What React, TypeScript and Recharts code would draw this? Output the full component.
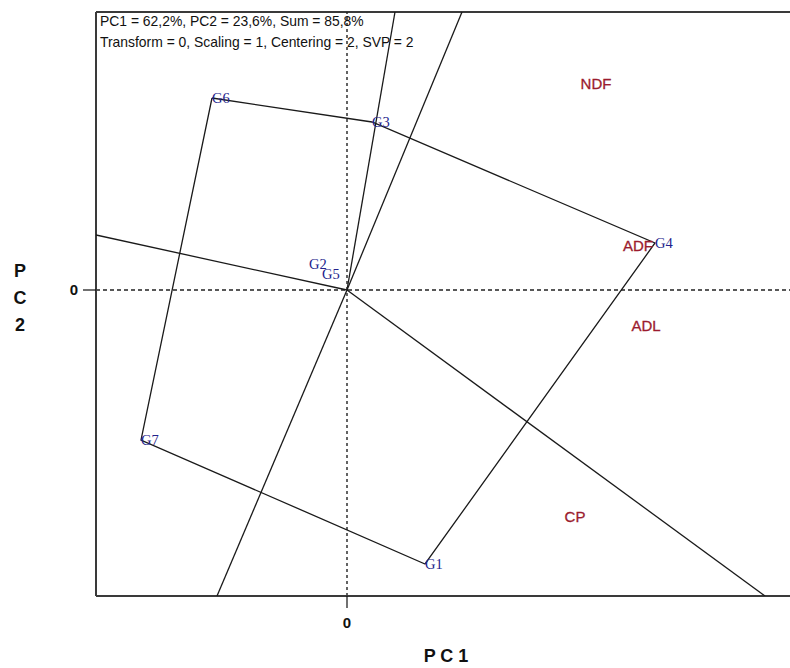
import * as React from "react";
import {
  ScatterChart,
  Scatter,
  XAxis,
  YAxis,
  ReferenceLine,
} from "recharts";

// biplot scores (PC1, PC2)
const genotypes = ["G1", "G2", "G3", "G4", "G5", "G6", "G7"];
const genoPC1 = [0.78, -0.38, 0.25, 3.08, -0.25, -1.35, -2.06];
const genoPC2 = [-2.74, 0.26, 1.68, 0.47, 0.16, 1.92, -1.5];

// which-won-where polygon, in drawing order
const hullOrder = ["G6", "G3", "G4", "G1", "G7", "G6"];

const traits = ["NDF", "ADF", "ADL", "CP"];
const traitPC1 = [2.49, 2.91, 2.99, 2.28];
const traitPC2 = [2.06, 0.44, -0.36, -2.27];

// rays from the origin, perpendicular to the polygon sides (end points at the frame)
const rayEndPC1 = [1.15, 0.48, -2.51, 4.18, -1.3];
const rayEndPC2 = [2.78, 2.78, 0.55, -3.06, -3.06];

const xDomain = [-2.51, 4.43];
const yDomain = [-3.06, 2.78];
const axisTicks = [0];

const headerLines = [
  "PC1 = 62,2%, PC2 = 23,6%, Sum = 85,8%",
  "Transform = 0, Scaling = 1, Centering = 2, SVP = 2",
];

const genoData = genotypes.map((g, i) => ({ name: g, x: genoPC1[i], y: genoPC2[i] }));
const hullData = hullOrder.map((g) => genoData.find((d) => d.name === g)!);
const traitData = traits.map((t, i) => ({ name: t, x: traitPC1[i], y: traitPC2[i] }));
const rays = rayEndPC1.map((x, i) => [
  { x: 0, y: 0 },
  { x, y: rayEndPC2[i] },
]);

const LINE = "#1a1a1a";
const FRAME = "#3a3a3a";
const SANS = "Arial, 'Liberation Sans', sans-serif";
const SERIF = "'Times New Roman', 'Liberation Serif', serif";

const noMark = () => <g />;

function GenoLabel(props: any) {
  const { cx, cy, payload } = props;
  return (
    <text
      x={cx}
      y={cy}
      dy={5}
      textAnchor="start"
      fontFamily={SERIF}
      fontSize={14.5}
      fill="#23238c"
    >
      {payload.name}
    </text>
  );
}

function TraitLabel(props: any) {
  const { cx, cy, payload } = props;
  return (
    <text
      x={cx}
      y={cy}
      dy={5}
      textAnchor="middle"
      fontFamily={SANS}
      fontSize={15}
      fill="#9b1b2e"
      stroke="#9b1b2e"
      strokeWidth={0.3}
    >
      {payload.name}
    </text>
  );
}

function XTitle(props: any) {
  const { viewBox } = props;
  return (
    <text
      x={viewBox.x + viewBox.width / 2 + 3}
      y={viewBox.y + 66}
      textAnchor="middle"
      fontFamily={SANS}
      fontWeight="bold"
      fontSize={18}
      fill="#111"
    >
      P C 1
    </text>
  );
}

function YTitle() {
  return (
    <text
      x={20}
      textAnchor="middle"
      fontFamily={SANS}
      fontWeight="bold"
      fontSize={18}
      fill="#111"
    >
      {["P", "C", "2"].map((c, i) => (
        <tspan key={c} x={20} y={277 + i * 27}>
          {c}
        </tspan>
      ))}
    </text>
  );
}

export default function App() {
  return (
    <div
      style={{
        position: "absolute",
        left: 0,
        top: 0,
        width: 790,
        height: 668,
        background: "#fff",
      }}
    >
      <ScatterChart
        width={790}
        height={668}
        margin={{ top: 12, right: 0, bottom: 0, left: 0 }}
      >
        <XAxis
          type="number"
          dataKey="x"
          domain={xDomain}
          ticks={axisTicks}
          allowDataOverflow
          height={72}
          tickSize={12}
          tickMargin={9}
          axisLine={{ stroke: FRAME, strokeWidth: 2 }}
          tickLine={{ stroke: "#111", strokeWidth: 1.2 }}
          tick={{ fontFamily: SANS, fontWeight: "bold", fontSize: 15, fill: "#111" }}
          label={<XTitle />}
        />
        <YAxis
          type="number"
          dataKey="y"
          domain={yDomain}
          ticks={axisTicks}
          allowDataOverflow
          width={96}
          tickSize={13}
          tickMargin={5}
          axisLine={{ stroke: FRAME, strokeWidth: 2 }}
          tickLine={{ stroke: "#111", strokeWidth: 1.2 }}
          tick={{ fontFamily: SANS, fontWeight: "bold", fontSize: 15, fill: "#111" }}
          label={<YTitle />}
        />
        <ReferenceLine y={yDomain[1]} stroke={FRAME} strokeWidth={2} />
        <ReferenceLine x={0} stroke="#222" strokeWidth={1.4} strokeDasharray="3 3" />
        <ReferenceLine y={0} stroke="#222" strokeWidth={1.4} strokeDasharray="4 3" />

        {rays.map((r, i) => (
          <Scatter
            key={`ray-${i}`}
            data={r}
            line={{ stroke: LINE, strokeWidth: 1.3 }}
            shape={noMark}
            isAnimationActive={false}
          />
        ))}

        <Scatter
          data={hullData}
          line={{ stroke: LINE, strokeWidth: 1.3 }}
          shape={noMark}
          isAnimationActive={false}
        />
        <Scatter data={genoData} shape={<GenoLabel />} isAnimationActive={false} />
        <Scatter data={traitData} shape={<TraitLabel />} isAnimationActive={false} />
      </ScatterChart>

      <div
        style={{
          position: "absolute",
          left: 100,
          top: 11,
          fontFamily: SANS,
          fontSize: 13.9,
          lineHeight: "21px",
          color: "#111",
          whiteSpace: "nowrap",
        }}
      >
        {headerLines.map((l) => (
          <div key={l}>{l}</div>
        ))}
      </div>
    </div>
  );
}
